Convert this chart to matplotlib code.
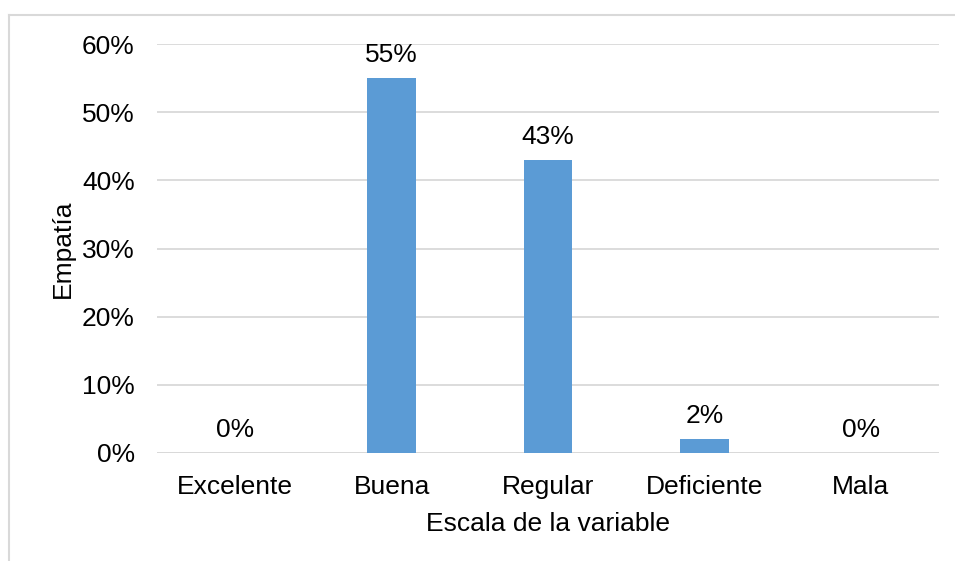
import matplotlib.pyplot as plt
from matplotlib.lines import Line2D
from matplotlib.ticker import PercentFormatter

# Empatía por escala de la variable
categorias = ["Excelente", "Buena", "Regular", "Deficiente", "Mala"]
porcentajes = [0, 55, 43, 2, 0]
ticks_y = [0, 10, 20, 30, 40, 50, 60]

plt.rcParams["font.family"] = ["Liberation Sans", "DejaVu Sans"]
plt.rcParams["font.size"] = 19

fig = plt.figure(figsize=(9.55, 5.61), dpi=100)
ax = fig.add_axes([157 / 955, 1 - 453 / 561, 782 / 955, 409 / 561])

x = range(len(categorias))
barras = ax.bar(x, porcentajes, width=0.31, color="#5B9BD5", zorder=3)

for xi, v in zip(x, porcentajes):
    ax.text(xi, v + 1.6, f"{v}%", ha="center", va="bottom")

ax.set_xlim(-0.5, len(categorias) - 0.5)
ax.set_ylim(0, 60)
ax.set_yticks(ticks_y)
ax.yaxis.set_major_formatter(PercentFormatter(decimals=0))
ax.set_xticks(list(x))
ax.set_xticklabels(categorias)
ax.tick_params(length=0)
ax.tick_params(axis="x", pad=16)
ax.tick_params(axis="y", pad=16)

ax.grid(axis="y", color="#D9D9D9", linewidth=1.3, zorder=0)
for s in ax.spines.values():
    s.set_visible(False)
ax.axhline(0, color="#D9D9D9", linewidth=1.3, zorder=2)

ax.set_xlabel("Escala de la variable", labelpad=9)
ax.set_ylabel("Empatía", labelpad=5)

# marco del área del gráfico (solo lados superior e izquierdo visibles)
x0, y0 = 8.5 / 955, 1 - 14.5 / 561
fig.add_artist(Line2D([x0, 1], [y0, y0], color="#D9D9D9", linewidth=1.5, transform=fig.transFigure))
fig.add_artist(Line2D([x0, x0], [0, y0], color="#D9D9D9", linewidth=1.5, transform=fig.transFigure))

fig.savefig("out.png", dpi=100)
